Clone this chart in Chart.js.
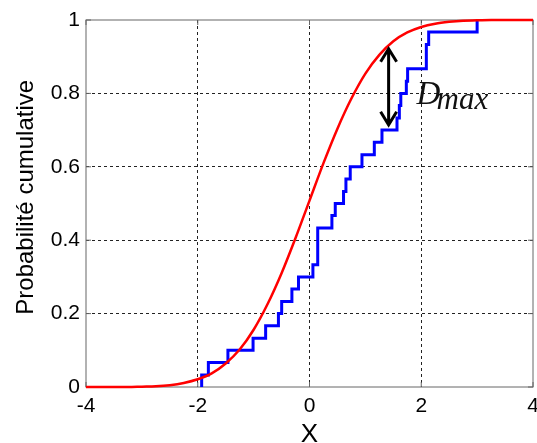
<!DOCTYPE html>
<html>
<head>
<meta charset="utf-8">
<script src="https://cdn.jsdelivr.net/npm/chart.js@4.4.1/dist/chart.umd.min.js"></script>
<style>
  html, body { margin: 0; padding: 0; background: #fff; }
</style>
</head>
<body>
<canvas id="chart" width="537" height="443"></canvas>
<script>
const xTicks = [-4, -2, 0, 2, 4];
const xTickLabels = ["-4", "-2", "0", "2", "4"];
const yTicks = [0, 0.2, 0.4, 0.6, 0.8, 1];
const yTickLabels = ["0", "0.2", "0.4", "0.6", "0.8", "1"];

// theoretical CDF (red)
const cdfX = [-4, -3.75, -3.5, -3.25, -3, -2.75, -2.5, -2.25, -2, -1.75, -1.5, -1.25, -1, -0.75, -0.5, -0.25,
  0, 0.25, 0.5, 0.75, 1, 1.25, 1.5, 1.75, 2, 2.25, 2.5, 2.75, 3, 3.25, 3.5, 3.75, 4];
const cdfY = [0, 0, 0, 0, 0.001, 0.002, 0.005, 0.011, 0.021, 0.037, 0.064, 0.102, 0.156, 0.226, 0.310, 0.406,
  0.508, 0.610, 0.704, 0.786, 0.854, 0.905, 0.942, 0.966, 0.981, 0.990, 0.995, 0.998, 0.999, 1, 1, 1, 1];

// empirical CDF (blue): jump positions and level after each jump
const ecdfX = [-1.93, -1.93, -1.81, -1.46, -1.01, -0.785, -0.556, -0.498, -0.315, -0.197, 0.061, 0.147, 0.401,
  0.461, 0.609, 0.652, 0.729, 0.939, 1.16, 1.297, 1.566, 1.608, 1.634, 1.733, 1.756, 2.091, 2.133, 3.0];
const ecdfY = [0, 0.033, 0.067, 0.1, 0.133, 0.167, 0.2, 0.233, 0.267, 0.3, 0.333, 0.433, 0.467,
  0.5, 0.533, 0.567, 0.6, 0.633, 0.667, 0.7, 0.733, 0.767, 0.8, 0.833, 0.867, 0.933, 0.967, 1];

// D max arrow
const dmaxX = 1.416;
const dmaxTop = 0.927;
const dmaxBottom = 0.709;

const FONT = '"Liberation Sans", Arial, sans-serif';

function setTicks(values) {
  return (scale) => { scale.ticks = values.map((v) => ({ value: v })); };
}

function gridColor(ctx) {
  const s = ctx.scale;
  if (ctx.tick && (ctx.tick.value === s.min || ctx.tick.value === s.max)) return "rgba(0,0,0,0)";
  return "#222";
}

function drawArrow(ctx, x, yTop, yBottom) {
  const head = 13, half = 8;
  ctx.beginPath();
  ctx.moveTo(x, yTop);
  ctx.lineTo(x, yBottom);
  ctx.moveTo(x - half, yTop + head);
  ctx.lineTo(x, yTop);
  ctx.lineTo(x + half, yTop + head);
  ctx.moveTo(x - half, yBottom - head);
  ctx.lineTo(x, yBottom);
  ctx.lineTo(x + half, yBottom - head);
  ctx.stroke();
}

const frame = {
  id: "frame",
  beforeDatasetsDraw(chart) {
    const { ctx, chartArea: a, scales: { x, y } } = chart;
    ctx.save();
    ctx.strokeStyle = "#666";
    ctx.lineWidth = 1;
    ctx.strokeRect(a.left, a.top, a.right - a.left, a.bottom - a.top);
    // inward tick marks, like matlab
    ctx.beginPath();
    for (const v of xTicks) {
      const px = x.getPixelForValue(v);
      ctx.moveTo(px, a.bottom); ctx.lineTo(px, a.bottom - 5);
      ctx.moveTo(px, a.top); ctx.lineTo(px, a.top + 5);
    }
    for (const v of yTicks) {
      const py = y.getPixelForValue(v);
      ctx.moveTo(a.left, py); ctx.lineTo(a.left + 5, py);
      ctx.moveTo(a.right, py); ctx.lineTo(a.right - 5, py);
    }
    ctx.stroke();
    ctx.restore();
  },
  afterDatasetsDraw(chart) {
    const { ctx, scales: { x, y } } = chart;
    const ax = x.getPixelForValue(dmaxX);
    const top = y.getPixelForValue(dmaxTop) + 2;
    const bottom = y.getPixelForValue(dmaxBottom) - 2;
    ctx.save();
    ctx.strokeStyle = "#000";
    ctx.lineWidth = 3;
    ctx.lineJoin = "miter";
    drawArrow(ctx, ax, top, bottom);

    ctx.fillStyle = "#111";
    ctx.textAlign = "left";
    ctx.textBaseline = "alphabetic";
    ctx.font = 'italic 33px "Liberation Serif", serif';
    ctx.fillText("D", ax + 28, 103.5);
    ctx.font = 'italic 31px "Liberation Serif", serif';
    ctx.fillText("max", ax + 48, 108.5);

    // axis titles
    ctx.fillStyle = "#000";
    ctx.font = "24px " + FONT;
    ctx.textAlign = "center";
    ctx.translate(33.3, 197.3);
    ctx.rotate(-Math.PI / 2);
    ctx.fillText("Probabilité cumulative", 0, 0);
    ctx.setTransform(1, 0, 0, 1, 0, 0);
    ctx.font = "26px " + FONT;
    ctx.fillText("X", x.getPixelForValue(0), 442);
    ctx.restore();
  },
};

new Chart(document.getElementById("chart"), {
  type: "line",
  data: {
    datasets: [
      {
        label: "cdf",
        data: cdfX.map((v, i) => ({ x: v, y: cdfY[i] })),
        borderColor: "#ff0000",
        borderWidth: 2.5,
        pointRadius: 0,
        cubicInterpolationMode: "monotone",
        clip: false,
      },
      {
        label: "ecdf",
        data: ecdfX.map((v, i) => ({ x: v, y: ecdfY[i] })),
        borderColor: "#0000ff",
        borderWidth: 3,
        pointRadius: 0,
        stepped: "before",
        borderJoinStyle: "miter",
        clip: false,
      },
    ],
  },
  options: {
    responsive: false,
    animation: false,
    devicePixelRatio: 1,
    layout: { padding: { top: 20, right: 4, left: 0, bottom: 0 } },
    plugins: { legend: { display: false }, tooltip: { enabled: false } },
    scales: {
      x: {
        type: "linear",
        min: -4, max: 4,
        afterBuildTicks: setTicks(xTicks),
        afterFit: (s) => { s.height = 56; s.paddingLeft = 0; s.paddingRight = 0; },
        grid: { color: gridColor, lineWidth: 1, drawTicks: false },
        border: { display: false, dash: [3, 3] },
        ticks: {
          padding: 7, color: "#000", maxRotation: 0, autoSkip: false,
          font: { family: FONT, size: 21 },
          callback: (v, i) => xTickLabels[i],
        },
      },
      y: {
        type: "linear",
        min: 0, max: 1,
        afterBuildTicks: setTicks(yTicks),
        afterFit: (s) => { s.width = 86; s.paddingTop = 0; s.paddingBottom = 0; },
        grid: { color: gridColor, lineWidth: 1, drawTicks: false },
        border: { display: false, dash: [3, 3] },
        ticks: {
          padding: 6, color: "#000", autoSkip: false,
          font: { family: FONT, size: 21 },
          callback: (v, i) => yTickLabels[i],
        },
      },
    },
  },
  plugins: [frame],
});
</script>
</body>
</html>
